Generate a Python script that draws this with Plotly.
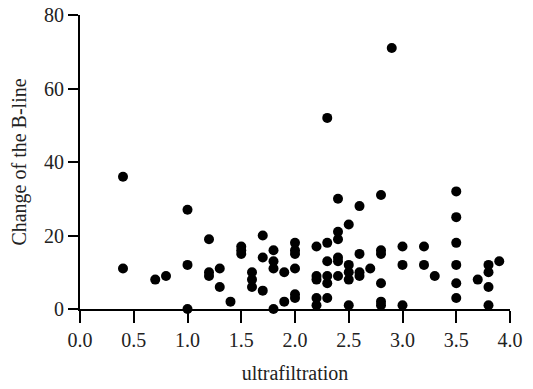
import plotly.graph_objects as go

# ultrafiltration (x) and change of the B-line (y)
ultrafiltration = [
    0.4, 0.4,
    0.7, 0.8,
    1.0, 1.0, 1.0,
    1.2, 1.2, 1.2,
    1.3, 1.3,
    1.4,
    1.5, 1.5, 1.5,
    1.6, 1.6, 1.6,
    1.7, 1.7, 1.7,
    1.8, 1.8, 1.8, 1.8,
    1.9, 1.9,
    2.0, 2.0, 2.0, 2.0, 2.0, 2.0,
    2.2, 2.2, 2.2, 2.2, 2.2,
    2.3, 2.3, 2.3, 2.3, 2.3, 2.3,
    2.4, 2.4, 2.4, 2.4, 2.4, 2.4,
    2.5, 2.5, 2.5, 2.5, 2.5,
    2.6, 2.6, 2.6, 2.6,
    2.7,
    2.8, 2.8, 2.8, 2.8, 2.8, 2.8,
    2.9,
    3.0, 3.0, 3.0,
    3.2, 3.2,
    3.3,
    3.5, 3.5, 3.5, 3.5, 3.5, 3.5,
    3.7,
    3.8, 3.8, 3.8, 3.8,
    3.9,
]
b_line_change = [
    36, 11,
    8, 9,
    27, 12, 0,
    19, 10, 9,
    11, 6,
    2,
    17, 16, 15,
    10, 8, 6,
    20, 14, 5,
    16, 13, 11, 0,
    10, 2,
    18, 16, 15, 11, 4, 3,
    17, 9, 8, 3, 1,
    52, 18, 13, 9, 7, 3,
    30, 21, 19, 14, 13, 9,
    23, 12, 10, 8, 1,
    28, 15, 10, 9,
    11,
    31, 16, 15, 7, 2, 1,
    71,
    17, 12, 1,
    17, 12,
    9,
    32, 25, 18, 12, 7, 3,
    8,
    12, 10, 6, 1,
    13,
]

x_ticks = [0.0, 0.5, 1.0, 1.5, 2.0, 2.5, 3.0, 3.5, 4.0]
y_ticks = [0, 20, 40, 60, 80]

FONT = "Liberation Serif"

fig = go.Figure(
    go.Scatter(
        x=ultrafiltration,
        y=b_line_change,
        mode="markers",
        marker=dict(color="black", size=10, line=dict(width=0)),
        cliponaxis=False,
        showlegend=False,
    )
)

fig.update_layout(
    width=533,
    height=389,
    margin=dict(l=80, r=23, t=15, b=80),
    paper_bgcolor="white",
    plot_bgcolor="white",
    font=dict(family=FONT, size=20, color="#222222"),
    xaxis=dict(
        range=[0, 4],
        tickvals=x_ticks,
        ticktext=[f"{v:.1f}" for v in x_ticks],
        showgrid=False,
        zeroline=False,
        showline=True,
        linecolor="black",
        linewidth=2,
        ticks="outside",
        ticklen=12,
        tickwidth=2,
        tickcolor="black",
        automargin=False,
        title=dict(text="ultrafiltration", standoff=16, font=dict(size=20)),
    ),
    yaxis=dict(
        range=[0, 80],
        tickvals=y_ticks,
        showgrid=False,
        zeroline=False,
        showline=True,
        linecolor="black",
        linewidth=2,
        ticks="outside",
        ticklen=10,
        tickwidth=2,
        tickcolor="black",
        automargin=False,
        title=dict(text="Change of the B-line", standoff=12, font=dict(size=20)),
    ),
)

# remove the browser's default 8px body margin so the figure fills the window
fig.write_html(
    "out.html",
    config={"displayModeBar": False},
    post_script="document.body.style.margin='0';document.body.style.overflow='hidden';",
)
